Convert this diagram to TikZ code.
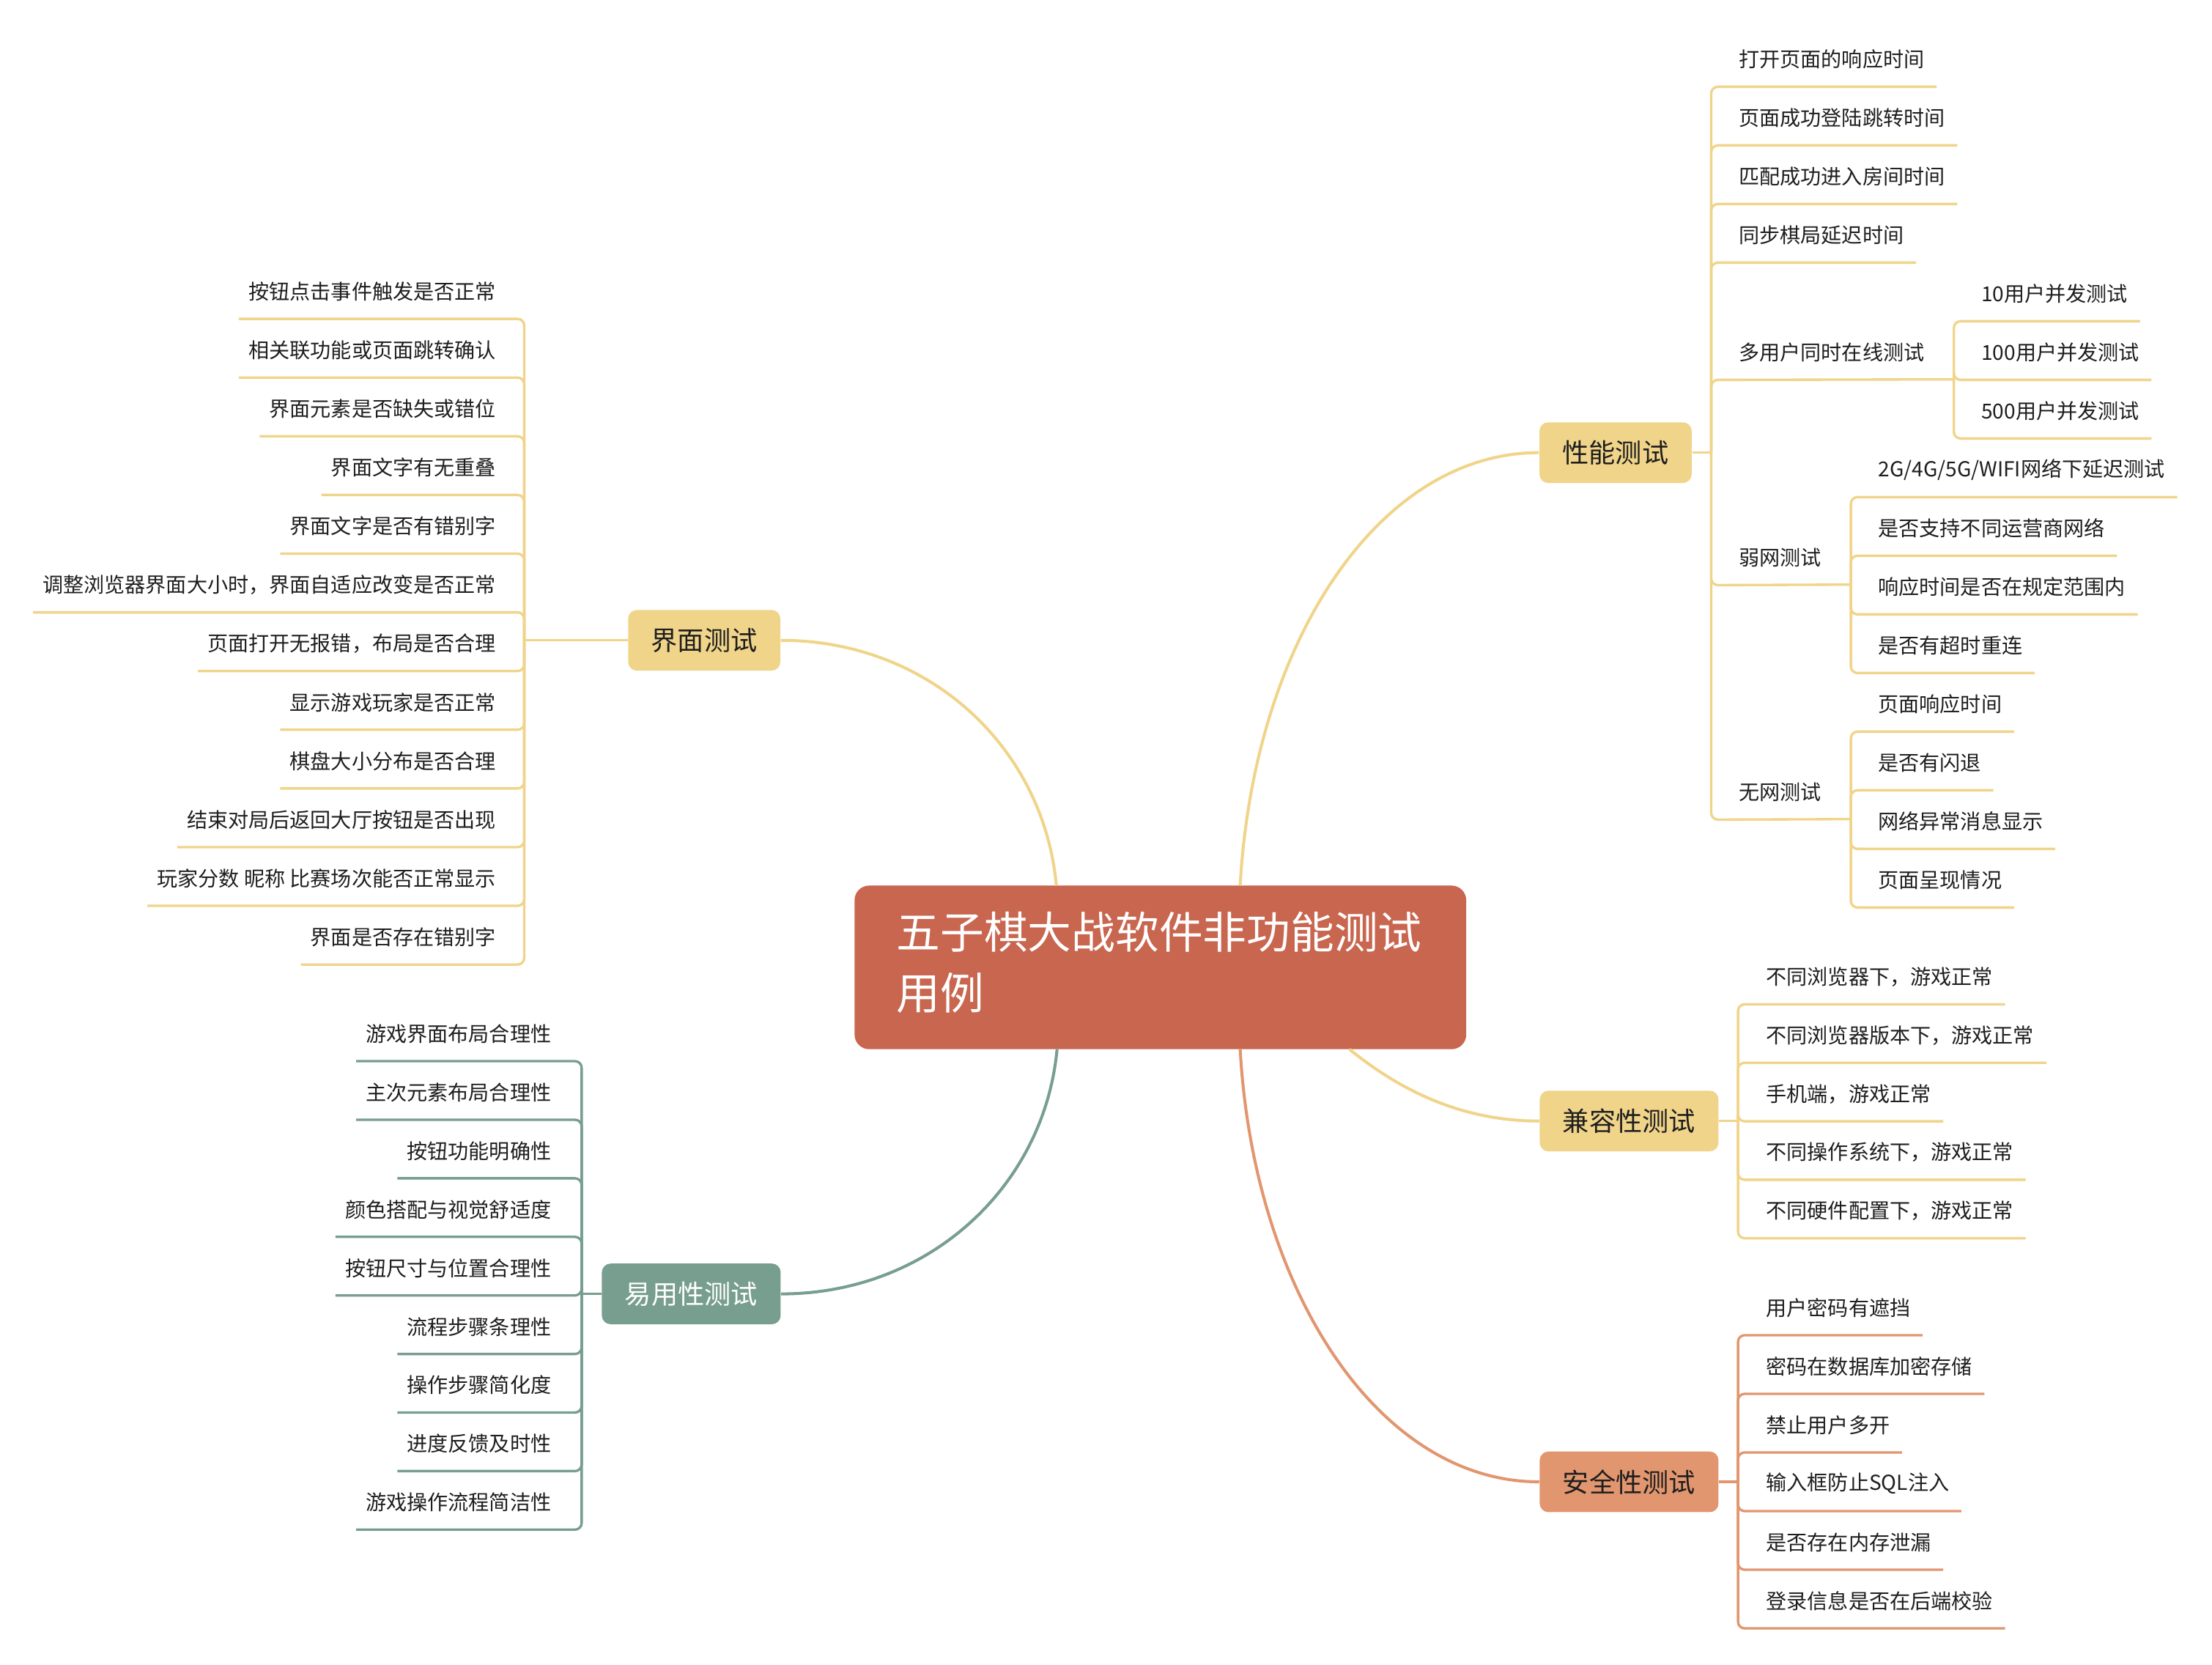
\documentclass[tikz,border=0pt]{standalone}
\usepackage{fontspec}
\setmainfont{Noto Sans CJK SC}
\definecolor{ink}{HTML}{1E1E1E}
\definecolor{brick}{HTML}{C8664F}
\definecolor{straw}{HTML}{F0D48A}
\definecolor{sage}{HTML}{779E8E}
\definecolor{salmon}{HTML}{E2966F}

\begin{document}
\begin{tikzpicture}[x=0.19254mm,y=-0.19254mm,
  leaf/.style={font=\fontsize{8}{10}\selectfont,text=ink,inner xsep=1.6mm,
    inner ysep=0pt,minimum height=7.32mm},
  lleaf/.style={leaf,inner xsep=1.25mm,anchor=east},
  topic/.style={rounded corners=1.2mm,minimum height=8.28mm,inner xsep=3.15mm,
    font=\fontsize{10.3}{12}\selectfont,text=ink},
  twig/.style={line width=0.95pt,rounded corners=0.9mm},
  limb/.style={line width=1.15pt}]
  \path[use as bounding box,fill=white] (0,0) rectangle (1568,1180);

  % Central topic
  \node[fill=brick,rounded corners=2mm,text=white,text width=72mm,align=left,
        inner xsep=5.74mm,minimum height=22.33mm,
        font=\fontsize{17}{23.5}\selectfont]
    (root) at (822.55,685.6)
    {五子棋大战软件非功能测试\\用例\rule[-1.9mm]{0pt}{1mm}};
  \coordinate (rtl) at (748.8,627.6);
  \coordinate (rtr) at (879.1,627.6);
  \coordinate (rbl) at (749.3,743.6);
  \coordinate (rbr) at (879.1,743.6);
  \coordinate (rbm) at (956.5,743.6);

  % Main branches
  \node[topic,fill=straw] (jm) at (499.2,453.8) {界面测试};
  \node[topic,fill=straw] (xn) at (1145.2,320.8) {性能测试};
  \node[topic,fill=straw] (jr) at (1154.8,794.5) {兼容性测试};
  \node[topic,fill=sage,text=white] (yy) at (490,917) {易用性测试};
  \node[topic,fill=salmon] (aq) at (1154.8,1050.2) {安全性测试};

  \draw[limb,straw] (jm.east) .. controls +(105,0) and +(-9,-98) .. (rtl);
  \draw[limb,straw] (xn.west) .. controls +(-114,0) and +(9.5,-172) .. (rtr);
  \draw[limb,straw] (jr.west) .. controls +(-60,0) and +(31,25) .. (rbm);
  \draw[limb,sage] (yy.east) .. controls +(105,0) and +(-9,97) .. (rbl);
  \draw[limb,salmon] (aq.west) .. controls +(-114,0) and +(9.5,171) .. (rbr);

  % Interface tests
  \coordinate (jmbar) at (371.6,453.8);
  \draw[twig,straw] (jm.west) -- (jmbar);
  \foreach \txt [count=\k from 0] in {按钮点击事件触发是否正常,
      相关联功能或页面跳转确认,界面元素是否缺失或错位,界面文字有无重叠,
      界面文字是否有错别字,调整浏览器界面大小时，界面自适应改变是否正常,
      页面打开无报错，布局是否合理,显示游戏玩家是否正常,棋盘大小分布是否合理,
      结束对局后返回大厅按钮是否出现,玩家分数 昵称 比赛场次能否正常显示,
      界面是否存在错别字}{
    \node[lleaf] (jm\k) at (358.4,{206.6+41.6*\k}) {\txt};
    \draw[twig,straw] (jmbar) |- (jm\k.south west);
  }

  % Usability tests
  \coordinate (yybar) at (412.3,917);
  \draw[twig,sage] (yy.west) -- (yybar);
  \foreach \txt [count=\k from 0] in {游戏界面布局合理性,主次元素布局合理性,
      按钮功能明确性,颜色搭配与视觉舒适度,按钮尺寸与位置合理性,流程步骤条理性,
      操作步骤简化度,进度反馈及时性,游戏操作流程简洁性}{
    \node[lleaf] (yy\k) at (397.6,{732.7+41.5*\k}) {\txt};
    \draw[twig,sage] (yybar) |- (yy\k.south west);
  }

  % Performance tests
  \coordinate (xnbar) at (1213,320.8);
  \draw[twig,straw] (xn.east) -- (xnbar);
  \foreach \txt [count=\k from 0] in {打开页面的响应时间,页面成功登陆跳转时间,
      匹配成功进入房间时间,同步棋局延迟时间}{
    \node[leaf,anchor=west] (xn\k) at (1224,{42.1+41.55*\k}) {\txt};
    \draw[twig,straw] (xnbar) |- (xn\k.south east);
  }

  \node[leaf,anchor=west] (dy) at (1224,249.85) {多用户同时在线测试};
  \coordinate (dybar) at (1385,268.85);
  \draw[twig,straw] (xnbar) |- (dy.south west) -- (dybar);
  \foreach \txt [count=\k from 0] in {10用户并发测试,100用户并发测试,
      500用户并发测试}{
    \node[leaf,anchor=west] (dy\k) at (1395.8,{208.3+41.55*\k}) {\txt};
    \draw[twig,straw] (dybar) |- (dy\k.south east);
  }

  \node[leaf,anchor=west] (rw) at (1224,395.3) {弱网测试};
  \coordinate (rwbar) at (1312,414.3);
  \draw[twig,straw] (xnbar) |- (rw.south west) -- (rwbar);
  \foreach \txt [count=\k from 0] in {2G/4G/5G/WIFI网络下延迟测试,
      是否支持不同运营商网络,响应时间是否在规定范围内,是否有超时重连}{
    \node[leaf,anchor=west] (rw\k) at (1322.7,{332.95+41.55*\k}) {\txt};
    \draw[twig,straw] (rwbar) |- (rw\k.south east);
  }

  \node[leaf,anchor=west] (ww) at (1224,561.5) {无网测试};
  \coordinate (wwbar) at (1312,580.5);
  \draw[twig,straw] (xnbar) |- (ww.south west) -- (wwbar);
  \foreach \txt [count=\k from 0] in {页面响应时间,是否有闪退,网络异常消息显示,
      页面呈现情况}{
    \node[leaf,anchor=west] (ww\k) at (1322.7,{499.15+41.55*\k}) {\txt};
    \draw[twig,straw] (wwbar) |- (ww\k.south east);
  }

  % Compatibility tests
  \coordinate (jrbar) at (1232,794.5);
  \draw[twig,straw] (jr.east) -- (jrbar);
  \foreach \txt [count=\k from 0] in {不同浏览器下，游戏正常,
      不同浏览器版本下，游戏正常,手机端，游戏正常,不同操作系统下，游戏正常,
      不同硬件配置下，游戏正常}{
    \node[leaf,anchor=west] (jr\k) at (1243.3,{692.4+41.45*\k}) {\txt};
    \draw[twig,straw] (jrbar) |- (jr\k.south east);
  }

  % Security tests
  \coordinate (aqbar) at (1232,1050.2);
  \draw[twig,salmon] (aq.east) -- (aqbar);
  \foreach \txt [count=\k from 0] in {用户密码有遮挡,密码在数据库加密存储,
      禁止用户多开,输入框防止SQL注入,是否存在内存泄漏,登录信息是否在后端校验}{
    \node[leaf,anchor=west] (aq\k) at (1243.3,{926.9+41.55*\k}) {\txt};
    \draw[twig,salmon] (aqbar) |- (aq\k.south east);
  }
\end{tikzpicture}
\end{document}
